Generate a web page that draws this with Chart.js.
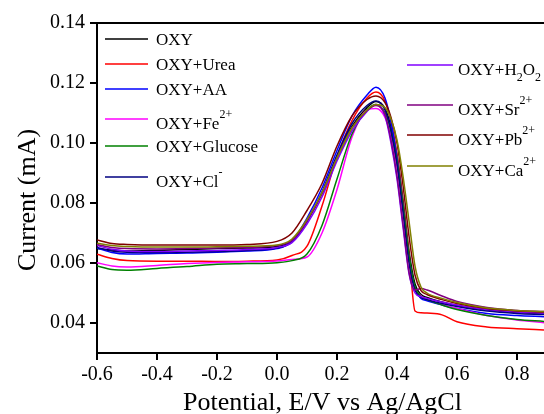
<!DOCTYPE html>
<html>
<head>
<meta charset="utf-8">
<script src="https://cdn.jsdelivr.net/npm/chart.js@4/dist/chart.umd.min.js"></script>
<style>
  body { margin: 0; background: #fff; }
  canvas { display: block; }
</style>
</head>
<body>
<canvas id="chart" width="544" height="414"></canvas>
<script>
// potential sweep (V vs Ag/AgCl)
var potential = [-0.6, -0.55, -0.5, -0.4, -0.3, -0.2, -0.1, 0.0, 0.05, 0.1, 0.15, 0.2, 0.25, 0.3,
                 0.33, 0.36, 0.38, 0.4, 0.42, 0.44, 0.46, 0.48, 0.5, 0.55, 0.6, 0.7, 0.8, 0.89];

// current (mA) for each solution
var oxy     = [0.0648, 0.0643, 0.0640, 0.0642, 0.0645, 0.0648, 0.0650, 0.0655, 0.0675, 0.0740, 0.0835, 0.0955, 0.1055, 0.1118,
               0.1138, 0.1115, 0.1055, 0.0960, 0.0810, 0.0640, 0.0530, 0.0495, 0.0485, 0.0470, 0.0458, 0.0443, 0.0435, 0.0430];
var urea    = [0.0629, 0.0615, 0.0608, 0.0606, 0.0606, 0.0605, 0.0606, 0.0610, 0.0625, 0.0656, 0.0790, 0.0955, 0.1075, 0.1150,
               0.1170, 0.1140, 0.1070, 0.0960, 0.0800, 0.0630, 0.0440, 0.0434, 0.0433, 0.0427, 0.0404, 0.0387, 0.0381, 0.0377];
var aa      = [0.0650, 0.0635, 0.0630, 0.0632, 0.0633, 0.0636, 0.0640, 0.0648, 0.0672, 0.0750, 0.0850, 0.0975, 0.1090, 0.1160,
               0.1186, 0.1150, 0.1070, 0.0950, 0.0790, 0.0620, 0.0515, 0.0482, 0.0474, 0.0460, 0.0448, 0.0432, 0.0425, 0.0421];
var fe      = [0.0601, 0.0590, 0.0587, 0.0592, 0.0598, 0.0602, 0.0604, 0.0607, 0.0612, 0.0620, 0.0700, 0.0845, 0.1020, 0.1110,
               0.1115, 0.1085, 0.1020, 0.0920, 0.0770, 0.0610, 0.0515, 0.0490, 0.0480, 0.0462, 0.0448, 0.0425, 0.0410, 0.0401];
var glucose = [0.0590, 0.0578, 0.0576, 0.0582, 0.0588, 0.0596, 0.0598, 0.0601, 0.0608, 0.0630, 0.0725, 0.0880, 0.1030, 0.1110,
               0.1128, 0.1100, 0.1040, 0.0940, 0.0790, 0.0625, 0.0520, 0.0488, 0.0478, 0.0460, 0.0445, 0.0425, 0.0412, 0.0405];
var cl      = [0.0652, 0.0640, 0.0636, 0.0635, 0.0636, 0.0638, 0.0642, 0.0650, 0.0670, 0.0740, 0.0835, 0.0960, 0.1065, 0.1125,
               0.1140, 0.1110, 0.1040, 0.0930, 0.0770, 0.0600, 0.0510, 0.0485, 0.0478, 0.0465, 0.0455, 0.0440, 0.0432, 0.0428];
var h2o2    = [0.0658, 0.0646, 0.0640, 0.0638, 0.0640, 0.0642, 0.0645, 0.0652, 0.0668, 0.0730, 0.0820, 0.0940, 0.1040, 0.1105,
               0.1128, 0.1090, 0.1000, 0.0880, 0.0720, 0.0565, 0.0500, 0.0488, 0.0482, 0.0470, 0.0460, 0.0445, 0.0437, 0.0433];
var sr      = [0.0662, 0.0652, 0.0648, 0.0647, 0.0648, 0.0650, 0.0652, 0.0658, 0.0675, 0.0740, 0.0830, 0.0950, 0.1050, 0.1108,
               0.1125, 0.1095, 0.1010, 0.0890, 0.0730, 0.0570, 0.0510, 0.0515, 0.0510, 0.0490, 0.0472, 0.0452, 0.0442, 0.0438];
var pb      = [0.0677, 0.0665, 0.0662, 0.0660, 0.0660, 0.0660, 0.0662, 0.0672, 0.0700, 0.0775, 0.0865, 0.0990, 0.1090, 0.1145,
               0.1157, 0.1135, 0.1085, 0.1000, 0.0860, 0.0690, 0.0560, 0.0508, 0.0495, 0.0478, 0.0465, 0.0448, 0.0440, 0.0437];
var ca      = [0.0666, 0.0658, 0.0655, 0.0653, 0.0653, 0.0654, 0.0656, 0.0660, 0.0680, 0.0745, 0.0835, 0.0950, 0.1050, 0.1110,
               0.1128, 0.1118, 0.1080, 0.1010, 0.0890, 0.0740, 0.0590, 0.0520, 0.0500, 0.0482, 0.0468, 0.0450, 0.0442, 0.0438];

var series = [oxy, urea, aa, fe, glucose, cl, h2o2, sr, pb, ca];
// ^{..} superscript, _{..} subscript
var names = ['OXY', 'OXY+Urea', 'OXY+AA', 'OXY+Fe^{2+}', 'OXY+Glucose', 'OXY+Cl^{-}',
             'OXY+H_{2}O_{2}', 'OXY+Sr^{2+}', 'OXY+Pb^{2+}', 'OXY+Ca^{2+}'];
var colors = ['#000000', '#ff0000', '#0000ff', '#ff00ff', '#008000', '#000080',
              '#8000ff', '#800080', '#800000', '#808000'];

var xTicks = [-0.6, -0.4, -0.2, 0.0, 0.2, 0.4, 0.6, 0.8];
var yTicks = [0.04, 0.06, 0.08, 0.10, 0.12, 0.14];

var serif = '"Liberation Serif", "Times New Roman", serif';

var datasets = series.map(function (ys, i) {
  return {
    label: names[i].replace(/[\^_]\{([^}]*)\}/g, '$1'),
    data: potential.map(function (x, j) { return { x: x, y: ys[j] }; }),
    borderColor: colors[i],
    borderWidth: 1.5,
    pointRadius: 0,
    fill: false,
    cubicInterpolationMode: 'monotone',
    order: series.length - i
  };
});

// split "OXY+Fe^{2+}" into runs of normal / sup / sub text
function parseLabel(s) {
  var parts = [], re = /([\^_])\{([^}]*)\}/g, last = 0, m;
  while ((m = re.exec(s))) {
    if (m.index > last) parts.push({ t: s.slice(last, m.index), k: 'n' });
    parts.push({ t: m[2], k: m[1] === '^' ? 'sup' : 'sub' });
    last = re.lastIndex;
  }
  if (last < s.length) parts.push({ t: s.slice(last), k: 'n' });
  return parts;
}

var legendRows = [
  { col: 0, y: 39 }, { col: 0, y: 64 }, { col: 0, y: 89 }, { col: 0, y: 119 }, { col: 0, y: 146 }, { col: 0, y: 177 },
  { col: 1, y: 65 }, { col: 1, y: 105 }, { col: 1, y: 135 }, { col: 1, y: 166 }
];
var legendCols = [{ x0: 105, x1: 148, tx: 156 }, { x0: 407, x1: 453, tx: 458 }];

var decorPlugin = {
  id: 'decor',
  afterDraw: function (chart) {
    var ctx = chart.ctx, a = chart.chartArea;
    ctx.save();
    // top frame line
    ctx.strokeStyle = '#000';
    ctx.lineWidth = 2;
    ctx.beginPath();
    ctx.moveTo(a.left - 1, a.top);
    ctx.lineTo(a.right, a.top);
    ctx.stroke();

    // axis titles
    ctx.fillStyle = '#000';
    ctx.font = '26px ' + serif;
    ctx.textAlign = 'center';
    ctx.textBaseline = 'alphabetic';
    ctx.fillText('Potential, E/V vs Ag/AgCl', (a.left + a.right) / 2 + 2, 410);
    ctx.save();
    ctx.translate(35, 200);
    ctx.rotate(-Math.PI / 2);
    ctx.fillText('Current (mA)', 0, 0);
    ctx.restore();

    // legend
    ctx.textAlign = 'left';
    names.forEach(function (name, i) {
      var row = legendRows[i], col = legendCols[row.col];
      var parts = parseLabel(name);
      var hasScript = parts.some(function (p) { return p.k !== 'n'; });
      ctx.strokeStyle = colors[i];
      ctx.lineWidth = 1.5;
      ctx.beginPath();
      ctx.moveTo(col.x0, row.y);
      ctx.lineTo(col.x1, row.y);
      ctx.stroke();
      var x = col.tx, base = row.y + (hasScript ? 10 : 6);
      parts.forEach(function (p) {
        var dy = 0;
        if (p.k === 'n') ctx.font = '17px ' + serif;
        else ctx.font = '12px ' + serif;
        if (p.k === 'sup') dy = -11;
        if (p.k === 'sub') dy = 6;
        ctx.fillText(p.t, x, base + dy);
        x += ctx.measureText(p.t).width;
      });
    });
    ctx.restore();
  }
};

new Chart(document.getElementById('chart').getContext('2d'), {
  type: 'line',
  data: { datasets: datasets },
  options: {
    responsive: false,
    animation: false,
    layout: { padding: { top: 23, right: 0, bottom: 0, left: 0 } },
    plugins: { legend: { display: false }, tooltip: { enabled: false } },
    scales: {
      x: {
        type: 'linear',
        min: -0.6,
        max: 0.89,
        afterBuildTicks: function (s) { s.ticks = xTicks.map(function (v) { return { value: v }; }); },
        afterFit: function (s) { s.height = 61; },
        ticks: {
          color: '#000',
          padding: 3,
          maxRotation: 0,
          font: { family: serif, size: 20 },
          callback: function (v) { return v.toFixed(1); }
        },
        grid: { drawOnChartArea: false, drawTicks: true, tickLength: 7, color: '#000', lineWidth: 2 },
        border: { color: '#000', width: 2 }
      },
      y: {
        type: 'linear',
        min: 0.03,
        max: 0.14,
        afterBuildTicks: function (s) { s.ticks = yTicks.map(function (v) { return { value: v }; }); },
        afterFit: function (s) { s.width = 97; },
        ticks: {
          color: '#000',
          padding: 5,
          font: { family: serif, size: 20 },
          callback: function (v) { return v.toFixed(2); }
        },
        grid: { drawOnChartArea: false, drawTicks: true, tickLength: 7, color: '#000', lineWidth: 2 },
        border: { color: '#000', width: 2 }
      }
    }
  },
  plugins: [decorPlugin]
});
</script>
</body>
</html>
